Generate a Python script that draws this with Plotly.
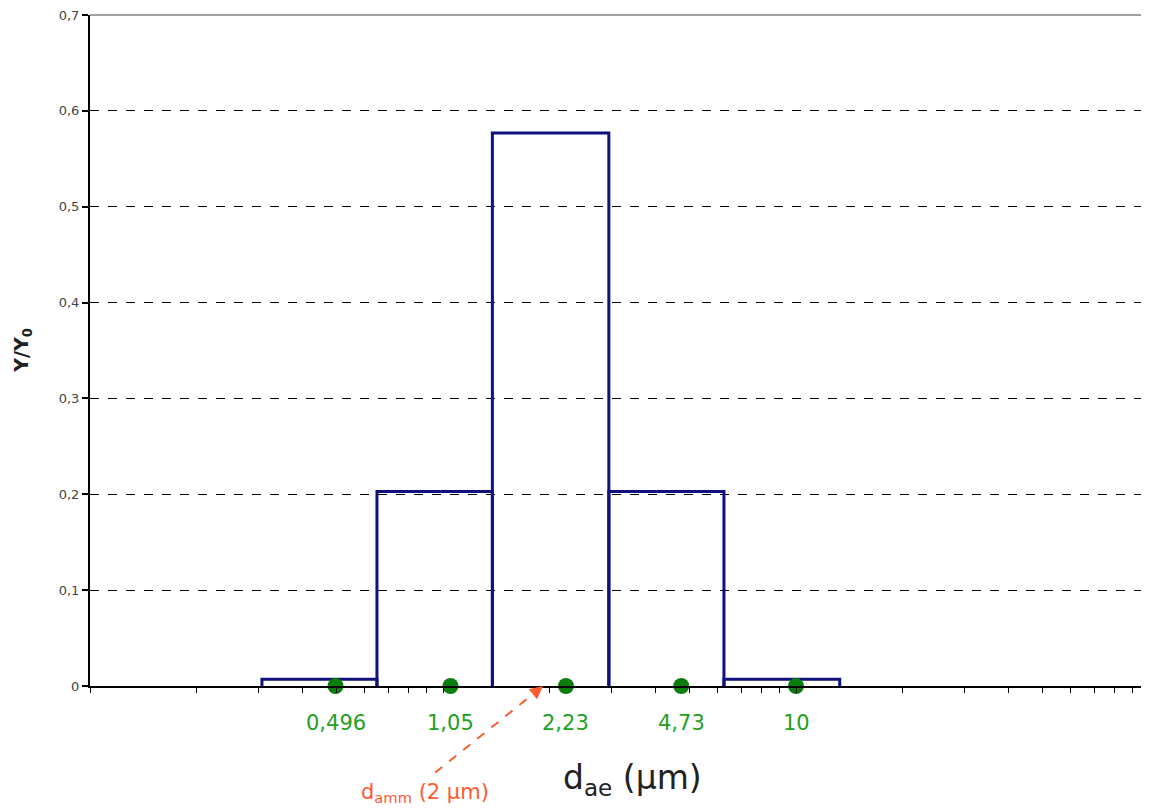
import numpy as np
import plotly.graph_objects as go

# ---- data ----
bin_edges = [0.307, 0.65, 1.38, 2.95, 6.25, 13.3]          # µm
bin_heights = [0.007, 0.203, 0.577, 0.203, 0.007]          # Y/Y0
dot_values = [0.496, 1.05, 2.23, 4.73, 10]                 # µm
dot_labels = ["0,496", "1,05", "2,23", "4,73", "10"]
y_ticks = [0, 0.1, 0.2, 0.3, 0.4, 0.5, 0.6, 0.7]
y_tick_labels = ["0", "0,1", "0,2", "0,3", "0,4", "0,5", "0,6", "0,7"]
x_decades = [0.1, 1, 10]
x_ticks = [d * m for d in x_decades for m in range(1, 10)] + [100]
damm = 1.92          # arrow tip position (µm), marks d_amm ≈ 2 µm
arrow_tail_x = 0.95

NAVY = "#10107e"
GREEN_DOT = "#0b7d0b"
GREEN_TXT = "#22a022"
RED = "#ff5a30"

fig = go.Figure()

# outlined bars (open at the bottom)
bx, by = [], []
for i, h in enumerate(bin_heights):
    bx += [bin_edges[i], bin_edges[i], bin_edges[i + 1], bin_edges[i + 1], None]
    by += [0, h, h, 0, None]
fig.add_trace(go.Scatter(x=bx, y=by, mode="lines",
                         line=dict(color=NAVY, width=3), hoverinfo="skip",
                         showlegend=False, cliponaxis=False))

# green dots on the axis
fig.add_trace(go.Scatter(x=dot_values, y=[0] * len(dot_values), mode="markers",
                         marker=dict(color=GREEN_DOT, size=16),
                         showlegend=False, cliponaxis=False))

annotations = []
for v, lab in zip(dot_values, dot_labels):
    annotations.append(dict(x=np.log10(v), y=-0.055, xref="x", yref="paper",
                            xanchor="center", yanchor="middle",
                            text=lab, showarrow=False,
                            font=dict(family="DejaVu Sans", size=21, color=GREEN_TXT)))

# axis titles
annotations.append(dict(x=0.512, y=-0.14, xref="paper", yref="paper",
                        xanchor="center", yanchor="middle",
                        text="d<sub>ae</sub> (µm)", showarrow=False,
                        font=dict(family="DejaVu Sans", size=33, color="#222222")))
annotations.append(dict(x=-0.064, y=0.5, xref="paper", yref="paper",
                        xanchor="center", yanchor="middle",
                        text="<b>Y/Y<sub>0</sub></b>", showarrow=False, textangle=-90,
                        font=dict(family="DejaVu Sans", size=19, color="#222222")))

# d_amm annotation text
annotations.append(dict(x=0.316, y=-0.16, xref="paper", yref="paper",
                        xanchor="center", yanchor="middle",
                        text="d<sub>amm</sub> (2 µm)", showarrow=False,
                        font=dict(family="DejaVu Sans", size=21, color=RED)))
# arrowhead
annotations.append(dict(x=np.log10(damm), y=0, xref="x", yref="y", text="",
                        showarrow=True, arrowhead=2, arrowsize=1.3, arrowwidth=2,
                        arrowcolor=RED, ax=-11, ay=9, standoff=0))

shapes = [
    # dashed arrow shaft
    dict(type="line", xref="x", yref="paper", x0=arrow_tail_x, y0=-0.129,
         x1=1.80, y1=-0.012, line=dict(color=RED, width=2, dash="dash")),
    # gray top border
    dict(type="line", xref="paper", yref="paper", x0=0, x1=1, y0=1, y1=1,
         line=dict(color="#a0a0a0", width=2)),
]

fig.update_layout(
    width=1141, height=804,
    margin=dict(l=82, r=0, t=5, b=126),
    paper_bgcolor="white", plot_bgcolor="white",
    showlegend=False,
    annotations=annotations, shapes=shapes,
)
fig.update_xaxes(type="log", range=[-1, 2], tickvals=x_ticks,
                 showticklabels=False, ticks="outside", ticklen=5,
                 tickcolor="black", showline=True, linecolor="black",
                 linewidth=2, showgrid=False, zeroline=False)
fig.update_yaxes(range=[0, 0.7], tickvals=y_ticks, ticktext=y_tick_labels,
                 ticks="outside", ticklen=6, tickcolor="black", tickwidth=2,
                 showline=True, linecolor="black", linewidth=2,
                 showgrid=True, gridcolor="black", gridwidth=1, griddash="dash",
                 zeroline=False, ticklabeloverflow="allow",
                 tickfont=dict(family="DejaVu Sans", size=13, color="#444444"))

fig.write_html("out.html")
